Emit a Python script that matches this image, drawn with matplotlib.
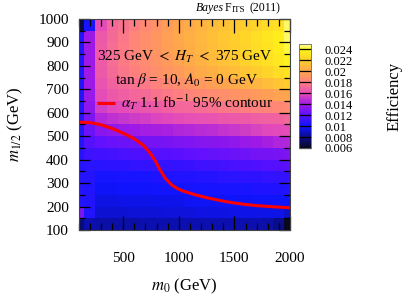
import numpy as np
import matplotlib
matplotlib.use("Agg")
import matplotlib.pyplot as plt
from matplotlib.colors import LinearSegmentedColormap
from matplotlib.ticker import MultipleLocator, FormatStrFormatter

plt.rcParams['font.family'] = 'serif'
plt.rcParams['font.serif'] = ['Liberation Serif', 'DejaVu Serif']
plt.rcParams['mathtext.fontset'] = 'stix'

# grid of the scan: m0 centres (GeV) and m1/2 row centres (GeV)
m0_centres = [100, 200, 300, 400, 500, 600, 700, 800, 900, 1000,
              1100, 1200, 1300, 1400, 1500, 1600, 1700, 1800, 1900, 2000]
m12_centres = [125, 175, 225, 275, 325, 375, 425, 475, 525,
               575, 625, 675, 725, 775, 825, 875, 925, 975]

# efficiency, one list per m1/2 row, bottom row first
eff_rows = [
    [0.0076, 0.0086, 0.0085, 0.0085, 0.0085, 0.0085, 0.0086, 0.0086, 0.0086, 0.0086,
     0.0086, 0.0086, 0.0086, 0.0086, 0.0086, 0.0086, 0.0086, 0.0085, 0.0080, 0.0060],
    [0.0130, 0.0105, 0.0092, 0.0092, 0.0092, 0.0093, 0.0093, 0.0093, 0.0094, 0.0094,
     0.0094, 0.0095, 0.0095, 0.0095, 0.0096, 0.0096, 0.0096, 0.0096, 0.0096, 0.0091],
    [0.0106, 0.0105, 0.0095, 0.0095, 0.0096, 0.0096, 0.0096, 0.0097, 0.0097, 0.0097,
     0.0098, 0.0098, 0.0098, 0.0099, 0.0099, 0.0099, 0.0100, 0.0100, 0.0100, 0.0100],
    [0.0106, 0.0105, 0.0099, 0.0099, 0.0100, 0.0100, 0.0100, 0.0101, 0.0101, 0.0101,
     0.0102, 0.0102, 0.0102, 0.0103, 0.0103, 0.0103, 0.0104, 0.0104, 0.0104, 0.0105],
    [0.0106, 0.0106, 0.0102, 0.0102, 0.0103, 0.0103, 0.0103, 0.0104, 0.0104, 0.0105,
     0.0105, 0.0106, 0.0106, 0.0107, 0.0107, 0.0108, 0.0108, 0.0109, 0.0109, 0.0110],
    [0.0106, 0.0107, 0.0107, 0.0108, 0.0108, 0.0109, 0.0109, 0.0110, 0.0110, 0.0110,
     0.0111, 0.0112, 0.0113, 0.0114, 0.0115, 0.0116, 0.0117, 0.0118, 0.0119, 0.0120],
    [0.0106, 0.0112, 0.0113, 0.0114, 0.0115, 0.0116, 0.0117, 0.0118, 0.0119, 0.0120,
     0.0121, 0.0122, 0.0123, 0.0124, 0.0125, 0.0126, 0.0127, 0.0128, 0.0129, 0.0130],
    [0.0106, 0.0118, 0.0122, 0.0124, 0.0125, 0.0126, 0.0127, 0.0128, 0.0129, 0.0130,
     0.0131, 0.0132, 0.0133, 0.0134, 0.0136, 0.0138, 0.0140, 0.0142, 0.0144, 0.0145],
    [0.0106, 0.0125, 0.0134, 0.0136, 0.0138, 0.0140, 0.0141, 0.0142, 0.0143, 0.0145,
     0.0146, 0.0147, 0.0148, 0.0150, 0.0152, 0.0154, 0.0156, 0.0158, 0.0159, 0.0160],
    [0.0106, 0.0130, 0.0146, 0.0149, 0.0151, 0.0153, 0.0155, 0.0157, 0.0158, 0.0160,
     0.0161, 0.0162, 0.0163, 0.0164, 0.0165, 0.0166, 0.0167, 0.0168, 0.0169, 0.0170],
    [0.0106, 0.0135, 0.0155, 0.0158, 0.0160, 0.0162, 0.0164, 0.0166, 0.0168, 0.0170,
     0.0171, 0.0173, 0.0175, 0.0177, 0.0178, 0.0180, 0.0181, 0.0183, 0.0184, 0.0185],
    [0.0106, 0.0138, 0.0160, 0.0165, 0.0167, 0.0170, 0.0172, 0.0175, 0.0177, 0.0180,
     0.0182, 0.0184, 0.0186, 0.0188, 0.0190, 0.0192, 0.0194, 0.0196, 0.0198, 0.0200],
    [0.0106, 0.0140, 0.0163, 0.0169, 0.0172, 0.0175, 0.0178, 0.0181, 0.0184, 0.0187,
     0.0190, 0.0193, 0.0196, 0.0199, 0.0202, 0.0205, 0.0208, 0.0212, 0.0216, 0.0220],
    [0.0106, 0.0140, 0.0165, 0.0172, 0.0176, 0.0180, 0.0184, 0.0188, 0.0191, 0.0194,
     0.0198, 0.0202, 0.0205, 0.0209, 0.0212, 0.0216, 0.0220, 0.0224, 0.0228, 0.0232],
    [0.0106, 0.0140, 0.0166, 0.0173, 0.0178, 0.0182, 0.0186, 0.0190, 0.0194, 0.0198,
     0.0202, 0.0206, 0.0210, 0.0214, 0.0218, 0.0222, 0.0226, 0.0230, 0.0234, 0.0240],
    [0.0106, 0.0140, 0.0166, 0.0173, 0.0178, 0.0183, 0.0188, 0.0192, 0.0196, 0.0200,
     0.0204, 0.0208, 0.0212, 0.0216, 0.0220, 0.0224, 0.0228, 0.0232, 0.0236, 0.0242],
    [0.0106, 0.0140, 0.0165, 0.0172, 0.0177, 0.0182, 0.0187, 0.0192, 0.0197, 0.0201,
     0.0205, 0.0209, 0.0213, 0.0217, 0.0221, 0.0225, 0.0229, 0.0233, 0.0237, 0.0245],
    [0.0068, 0.0103, 0.0160, 0.0170, 0.0175, 0.0180, 0.0185, 0.0190, 0.0195, 0.0200,
     0.0203, 0.0207, 0.0211, 0.0215, 0.0218, 0.0221, 0.0224, 0.0227, 0.0230, 0.0245],
]

# alpha_T 1.1 fb^-1 95% exclusion contour
contour_m0 = [110, 200, 300, 400, 500, 600, 680, 740, 790, 830, 880, 935,
              990, 1040, 1150, 1250, 1360, 1460, 1580, 1700, 1850, 2000]
contour_m12 = [560, 558, 549, 533, 513, 489, 462, 430, 394, 358, 320, 293,
               276, 266, 250, 238, 227, 218, 210, 204, 199, 195]

cbar_ticks = [0.006, 0.008, 0.01, 0.012, 0.014, 0.016, 0.018, 0.02, 0.022, 0.024]


def edges(centres, lo, hi):
    c = np.asarray(centres, dtype=float)
    mid = (c[1:] + c[:-1]) / 2
    return np.concatenate([[lo], mid, [hi]])


cmap = LinearSegmentedColormap.from_list('bayes', [
    (0.0, (0.03, 0.03, 0.12)),
    (0.105, (0.04, 0.05, 0.55)),
    (0.21, (0.06, 0.08, 1.00)),
    (0.316, (0.36, 0.06, 1.00)),
    (0.42, (0.62, 0.10, 0.90)),
    (0.526, (0.90, 0.30, 0.72)),
    (0.632, (1.00, 0.50, 0.50)),
    (0.737, (1.00, 0.65, 0.30)),
    (0.842, (1.00, 0.80, 0.18)),
    (0.947, (1.00, 0.95, 0.10)),
    (1.0, (1.00, 1.00, 0.65)),
])

W, H = 408, 296
fig = plt.figure(figsize=(W / 100, H / 100), dpi=100)
ax = fig.add_axes([78.7 / W, 1 - 230 / H, 211.3 / W, 211 / H])

mesh = ax.pcolormesh(edges(m0_centres, 100, 2000), edges(m12_centres, 100, 1000),
                     np.array(eff_rows), cmap=cmap, vmin=0.006, vmax=0.025)
ax.plot(contour_m0, contour_m12, color='red', lw=2.2, solid_capstyle='butt',
        solid_joinstyle='round', label=r'$\alpha_T$ 1.1 fb$^{-1}$ 95% contour')

ax.set_xlim(100, 2000)
ax.set_ylim(100, 1000)
ax.xaxis.set_major_locator(MultipleLocator(500))
ax.xaxis.set_minor_locator(MultipleLocator(100))
ax.yaxis.set_major_locator(MultipleLocator(100))
ax.yaxis.set_minor_locator(MultipleLocator(50))
ax.tick_params(axis='both', which='both', direction='in', top=True, right=True,
               colors='black', labelsize=11)
ax.tick_params(axis='x', which='major', length=10, width=0.9, pad=16)
ax.tick_params(axis='x', which='minor', length=5, width=0.9)
ax.tick_params(axis='y', which='major', length=8, width=0.9, pad=7)
ax.tick_params(axis='y', which='minor', length=4, width=0.9)
for s in ax.spines.values():
    s.set_linewidth(0.8)
    s.set_color('#444444')

ax.set_xlabel(r'$m_0$ (GeV)', fontsize=12, labelpad=8)
ax.set_ylabel(r'$m_{1/2}$ (GeV)', fontsize=12, labelpad=10)

ax.text(0.503, 0.82, r'325 GeV $<$ $H_T$ $<$ 375 GeV',
        transform=ax.transAxes, ha='center', va='center', fontsize=11)
ax.text(0.508, 0.711, r'tan $\beta$ = 10, $A_0$ = 0 GeV',
        transform=ax.transAxes, ha='center', va='center', fontsize=11)
ax.legend(loc='center', bbox_to_anchor=(0.503, 0.605), frameon=False,
          fontsize=11, handlelength=1.2, handletextpad=0.4,
          borderpad=0, borderaxespad=0)

# colour bar
cax = fig.add_axes([299 / W, 1 - 148 / H, 12 / W, 104 / H])
cb = fig.colorbar(mesh, cax=cax, ticks=cbar_ticks)
cb.ax.yaxis.set_major_formatter(FormatStrFormatter('%g'))
cb.ax.tick_params(direction='in', length=8.6, width=0.9, right=True, left=False,
                  labelsize=9, pad=10, color='black')
cb.ax.minorticks_off()
cb.outline.set_linewidth(0.6)
cb.outline.set_edgecolor('#666666')
fig.text(395 / W, 1 - 96 / H, 'Efficiency', rotation=90, ha='center', va='center',
         fontsize=12)

# BayesFits (2011) tag, pieces chained one after another
t1 = fig.text(196 / W, 1 - 11 / H, 'Bayes', style='italic', fontsize=8.5,
              ha='left', va='baseline')
a2 = ax.annotate('F', xy=(1, 0), xycoords=t1, xytext=(0.5, 0), textcoords='offset points',
                 fontsize=8.5, va='bottom', ha='left')
a3 = ax.annotate('ITS', xy=(1, 0), xycoords=a2, xytext=(0.2, 0), textcoords='offset points',
                 fontsize=6.5, va='bottom', ha='left')
ax.annotate('(2011)', xy=(1, 0), xycoords=a3, xytext=(3, 0), textcoords='offset points',
            fontsize=8.5, va='bottom', ha='left')

fig.savefig('out.png', dpi=100)
